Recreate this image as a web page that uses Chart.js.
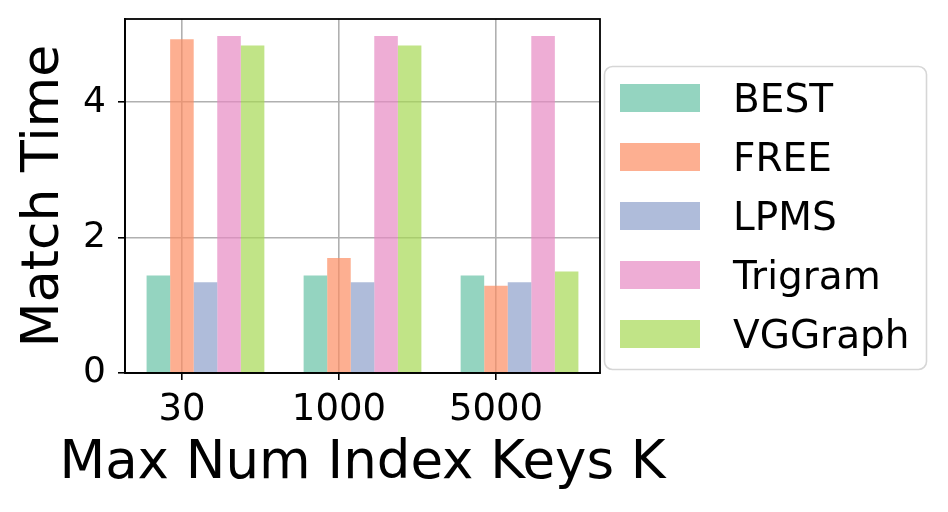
<!DOCTYPE html>
<html>
<head>
<meta charset="utf-8">
<script src="https://cdn.jsdelivr.net/npm/chart.js@4.4.0/dist/chart.umd.min.js"></script>
<style>
  html, body { margin: 0; padding: 0; background: #fff; }
  #wrap { width: 948px; height: 512px; }
</style>
</head>
<body>
<div id="wrap"><canvas id="matchChart" width="948" height="512"></canvas></div>
<script>
// Categories on the x axis (Max Num Index Keys K)
const categories = ["30", "1000", "5000"];

// Match time per method, one value per category
const best = [1.44, 1.44, 1.44];
const free = [4.93, 1.70, 1.29];
const lpms = [1.34, 1.34, 1.34];
const trigram = [4.98, 4.98, 4.98];
const vggraph = [4.84, 4.84, 1.50];

const yTicks = [0, 2, 4];

const xTitle = "Max Num Index Keys K";
const yTitle = "Match Time";

const font = "DejaVu Sans";

// Set2 palette, alpha 0.7
const colors = [
  "rgba(102, 194, 165, 0.7)",
  "rgba(252, 141, 98, 0.7)",
  "rgba(141, 160, 203, 0.7)",
  "rgba(231, 138, 195, 0.7)",
  "rgba(166, 216, 84, 0.7)",
];

const series = [
  { label: "BEST", values: best },
  { label: "FREE", values: free },
  { label: "LPMS", values: lpms },
  { label: "Trigram", values: trigram },
  { label: "VGGraph", values: vggraph },
];

// the tick sits under the second bar of each group, so shift the group centre
const groupShift = 0.15;

const datasets = series.map(function (s, i) {
  return {
    label: s.label,
    data: s.values.map(function (v, j) {
      return { x: j + groupShift, y: v };
    }),
    backgroundColor: colors[i],
    borderWidth: 0,
    categoryPercentage: 0.75,
    barPercentage: 1.0,
  };
});

// top and right spines, plus the x title (wider than the axes, so drawn here)
const frame = {
  id: "frame",
  afterDraw(chart) {
    const a = chart.chartArea;
    const ctx = chart.ctx;
    ctx.save();
    ctx.strokeStyle = "#000";
    ctx.lineWidth = 1.8;
    ctx.strokeRect(a.left, a.top, a.right - a.left, a.bottom - a.top);
    ctx.fillStyle = "#000";
    ctx.font = "53px '" + font + "'";
    ctx.textAlign = "center";
    ctx.textBaseline = "alphabetic";
    ctx.fillText(xTitle, (a.left + a.right) / 2, 478);
    ctx.restore();
  },
};

// matplotlib-like legend box to the right of the axes
const boxLegend = {
  id: "boxLegend",
  afterDraw(chart) {
    const ctx = chart.ctx;
    const a = chart.chartArea;
    const left = a.right + 4.5;
    const top = 66.5;
    ctx.save();
    ctx.beginPath();
    ctx.roundRect(left, top, 322, 303, 8);
    ctx.fillStyle = "rgba(255,255,255,0.8)";
    ctx.fill();
    ctx.strokeStyle = "#d6d6d6";
    ctx.lineWidth = 1.6;
    ctx.stroke();
    ctx.font = "39px '" + font + "'";
    ctx.textBaseline = "alphabetic";
    ctx.textAlign = "left";
    chart.data.datasets.forEach(function (ds, i) {
      const y = 84 + i * 59;
      ctx.fillStyle = ds.backgroundColor;
      ctx.fillRect(left + 15.5, y, 80, 28);
      ctx.fillStyle = "#000";
      ctx.fillText(ds.label, left + 128.5, y + 28);
    });
    ctx.restore();
  },
};

const ctx = document.getElementById("matchChart").getContext("2d");

const matchChart = new Chart(ctx, {
  type: "bar",
  data: { datasets: datasets },
  options: {
    responsive: false,
    animation: false,
    devicePixelRatio: 1,
    layout: { padding: { top: 19, right: 348, bottom: 0, left: 0 } },
    plugins: {
      legend: { display: false },
      tooltip: { enabled: false },
    },
    scales: {
      x: {
        type: "linear",
        min: -0.3625,
        max: 2.6625,
        offset: false,
        z: 1,
        afterBuildTicks: function (scale) {
          scale.ticks = categories.map(function (c, i) {
            return { value: i };
          });
        },
        afterFit: function (scale) {
          scale.height = 139;
          scale.paddingLeft = 0;
          scale.paddingRight = 0;
        },
        ticks: {
          color: "#000",
          font: { family: font, size: 37 },
          padding: 8,
          maxRotation: 0,
          autoSkip: false,
          callback: function (v) {
            return categories[v];
          },
        },
        grid: {
          offset: false,
          color: "#b0b0b0",
          lineWidth: 1.6,
          tickColor: "#000",
          tickLength: 7,
          tickWidth: 1.6,
        },
        border: { display: true, color: "#000", width: 1.8 },
      },
      y: {
        min: 0,
        max: 5.23,
        z: 1,
        afterBuildTicks: function (scale) {
          scale.ticks = yTicks.map(function (v) {
            return { value: v };
          });
        },
        afterFit: function (scale) {
          scale.width = 125;
          scale.paddingTop = 0;
          scale.paddingBottom = 0;
        },
        ticks: {
          color: "#000",
          font: { family: font, size: 36 },
          padding: 12,
        },
        grid: {
          color: "#b0b0b0",
          lineWidth: 1.6,
          tickColor: "#000",
          tickLength: 7,
          tickWidth: 1.6,
        },
        border: { display: true, color: "#000", width: 1.8 },
        title: {
          display: true,
          text: yTitle,
          color: "#000",
          font: { family: font, size: 52, lineHeight: 1 },
          padding: { top: 18, bottom: 0 },
        },
      },
    },
  },
  plugins: [frame, boxLegend],
});
</script>
</body>
</html>
